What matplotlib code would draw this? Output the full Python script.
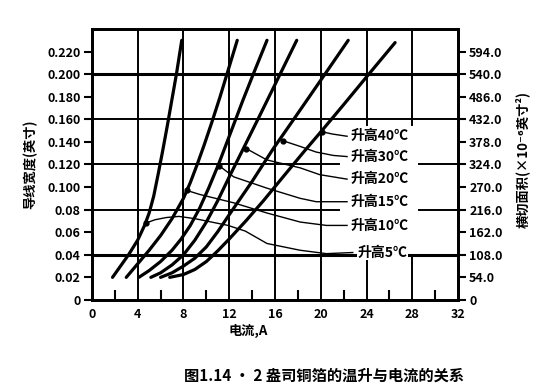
import matplotlib
matplotlib.use("Agg")
import matplotlib.pyplot as plt

plt.rcParams['font.family'] = ['Noto Sans CJK SC', 'DejaVu Sans']

# curves: current (A) vs conductor width (inch), one per temperature rise
a_x = [1.8, 2.5, 3.2, 4.0, 4.6, 5.0, 5.4, 5.8, 6.2, 6.6, 7.0, 7.4, 7.85]
a_y = [0.02, 0.03, 0.04, 0.053, 0.066, 0.077, 0.092, 0.112, 0.133, 0.155, 0.178, 0.201, 0.23]
b_x = [3.0, 4.0, 5.0, 6.0, 7.0, 8.0, 8.6, 9.2, 9.8, 10.5, 11.2, 11.8, 12.7]
b_y = [0.02, 0.032, 0.044, 0.057, 0.072, 0.09, 0.104, 0.12, 0.137, 0.158, 0.18, 0.2, 0.23]
c_x = [4.1, 5.0, 6.0, 7.0, 7.8, 8.6, 9.4, 10.2, 11.1, 12.0, 13.2, 14.1, 15.3]
c_y = [0.02, 0.026, 0.034, 0.044, 0.054, 0.066, 0.081, 0.099, 0.121, 0.145, 0.177, 0.2, 0.23]
d_x = [5.15, 6.0, 7.0, 8.0, 9.0, 10.0, 11.0, 12.0, 13.5, 14.7, 16.3, 17.9]
d_y = [0.02, 0.024, 0.031, 0.04, 0.053, 0.069, 0.088, 0.109, 0.1395, 0.164, 0.197, 0.23]
e_x = [6.0, 7.0, 8.0, 9.0, 10.0, 11.0, 12.0, 14.0, 15.85, 17.5, 19.0, 20.5, 22.4]
e_y = [0.02, 0.024, 0.03, 0.037, 0.047, 0.0605, 0.0755, 0.105, 0.134, 0.158, 0.18, 0.202, 0.23]
f_x = [6.8, 8.0, 9.0, 10.0, 11.0, 12.0, 13.5, 15.0, 16.5, 18.5, 20.1, 22.0, 24.2, 26.5]
f_y = [0.02, 0.0225, 0.027, 0.034, 0.0435, 0.054, 0.0705, 0.088, 0.1065, 0.131, 0.15, 0.173, 0.2, 0.228]

# leader lines from curve to label
l40_x = [20.1, 21.0, 22.3]
l40_y = [0.149, 0.147, 0.145]
l30_x = [16.7, 18.2, 19.6, 21.1, 22.3]
l30_y = [0.141, 0.136, 0.131, 0.128, 0.127]
l20_x = [13.5, 15.3, 18.2, 19.9, 22.3]
l20_y = [0.134, 0.124, 0.117, 0.111, 0.107]
l15_x = [11.1, 12.4, 15.3, 18.2, 19.6, 22.3]
l15_y = [0.119, 0.109, 0.099, 0.090, 0.087, 0.087]
l10_x = [8.3, 9.4, 12.4, 15.3, 18.2, 20.5, 22.3]
l10_y = [0.097, 0.0935, 0.086, 0.077, 0.069, 0.066, 0.066]
l5_x = [4.7, 5.5, 6.5, 7.6, 9.0, 11.9, 13.4, 15.3, 18.2, 20.5, 22.8]
l5_y = [0.068, 0.071, 0.073, 0.074, 0.072, 0.066, 0.061, 0.050, 0.044, 0.041, 0.042]

labels = ['升高40℃', '升高30℃', '升高20℃', '升高15℃', '升高10℃', '升高5℃']
label_x = [22.6, 22.6, 22.6, 22.6, 22.6, 23.2]

yticks = [0, 0.02, 0.04, 0.06, 0.08, 0.10, 0.12, 0.14, 0.16, 0.18, 0.20, 0.22]
ytick_labels = ['0', '0.02', '0.04', '0.06', '0.08', '0.100', '0.120', '0.140',
                '0.160', '0.180', '0.200', '0.220']
rticks = [0, 54, 108, 162, 216, 270, 324, 378, 432, 486, 540, 594]
rtick_labels = ['0', '54.0', '108.0', '162.0', '216.0', '270.0', '324.0', '378.0',
                '432.0', '486.0', '540.0', '594.0']
xticks = [0, 4, 8, 12, 16, 20, 24, 28, 32]

fig = plt.figure(figsize=(5.44, 3.87), dpi=100)
ax = fig.add_axes([0.169, 0.225, 0.673, 0.70])
ax.set_xlim(0, 32)
ax.set_ylim(0, 0.24)

# grid
for gx in [4, 8, 12, 16, 20]:
    ax.plot([gx, gx], [0, 0.24], color='black', lw=1.4)
for gx in [24, 28]:
    ax.plot([gx, gx], [0, 0.04], color='black', lw=1.4)
    ax.plot([gx, gx], [0.155, 0.24], color='black', lw=1.4)
ax.plot([0, 32], [0.04, 0.04], color='black', lw=2.2)
ax.plot([0, 32], [0.20, 0.20], color='black', lw=2.2)
ax.plot([0, 32], [0.16, 0.16], color='black', lw=1.4)
for gy in [0.08, 0.12]:
    ax.plot([0, 21.6], [gy, gy], color='black', lw=1.4)
    ax.plot([28.6, 32], [gy, gy], color='black', lw=1.4)

for cx, cy in [(a_x, a_y), (b_x, b_y), (c_x, c_y), (d_x, d_y), (e_x, e_y), (f_x, f_y)]:
    ax.plot(cx, cy, color='black', lw=2.3, solid_capstyle='round', solid_joinstyle='round')

leaders = [(l40_x, l40_y), (l30_x, l30_y), (l20_x, l20_y),
           (l15_x, l15_y), (l10_x, l10_y), (l5_x, l5_y)]
for (lx, ly), lab, tx in zip(leaders, labels, label_x):
    ax.plot(lx, ly, color='black', lw=1.0)
    ax.plot(lx[0], ly[0], 'o', color='black', ms=3.5)
    ax.text(tx, ly[-1], lab, fontsize=10, fontweight='bold', va='center', ha='left',
            bbox=dict(facecolor='white', edgecolor='none', pad=0.5))

for s in ax.spines.values():
    s.set_linewidth(2.0)

ax.set_xticks(xticks)
ax.set_xticklabels([str(v) for v in xticks], fontsize=9, fontweight='bold')
ax.set_xticks([2, 6, 10, 14, 18, 22, 26, 30], minor=True)
ax.tick_params(axis='x', which='major', length=0, pad=6)
ax.tick_params(axis='x', which='minor', direction='in', length=7, width=1.5)

ax.set_yticks(yticks)
ax.set_yticklabels(ytick_labels, fontsize=9, fontweight='bold')
ax.tick_params(axis='y', which='major', direction='out', length=6, width=1.5, pad=2)

ax2 = ax.twinx()
ax2.set_ylim(0, 0.24 * 2700)
ax2.set_yticks(rticks)
ax2.set_yticklabels(rtick_labels, fontsize=9, fontweight='bold')
ax2.tick_params(axis='y', direction='out', length=6, width=1.5, pad=2)
for s in ax2.spines.values():
    s.set_linewidth(2.0)

ax.set_xlabel('电流,A', fontsize=9.5, fontweight='bold', labelpad=2)
ax.xaxis.set_label_coords(0.426, -0.09)
ax.set_ylabel('导线宽度(英寸)', fontsize=9.5, fontweight='bold')
ax.yaxis.set_label_coords(-0.15, 0.5)
ax2.set_ylabel('横切面积(×10⁻⁶英寸²)', fontsize=9.5, fontweight='bold')
ax2.yaxis.set_label_coords(1.155, 0.52)

fig.text(0.595, 0.008, '图1.14 · 2 盎司铜箔的温升与电流的关系', fontsize=11,
         fontweight='bold', ha='center', va='bottom')

fig.savefig('out.png', dpi=100)
